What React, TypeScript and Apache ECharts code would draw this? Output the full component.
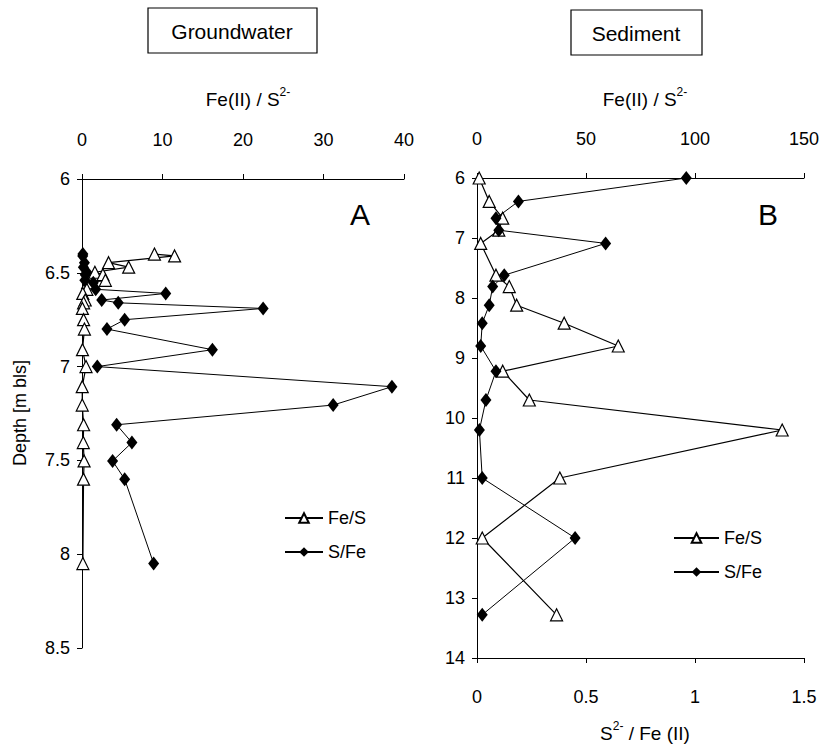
import React, { useEffect, useRef } from "react";
import * as echarts from "echarts";

// Groundwater (panel A)
const gwDepth = [6.40, 6.41, 6.446, 6.47, 6.497, 6.51, 6.54, 6.553, 6.588, 6.61, 6.645, 6.66, 6.69, 6.75, 6.80, 6.91, 7.0, 7.107, 7.205, 7.31, 7.405, 7.503, 7.6, 8.05];
const gwFeS = [9.0, 11.5, 3.3, 5.8, 1.6, 2.6, 2.9, 0.7, 0.6, 0.1, 0.4, 0.2, 0.05, 0.2, 0.3, 0.06, 0.5, 0.03, 0.03, 0.2, 0.16, 0.26, 0.19, 0.11];
const gwSFe = [0.11, 0.09, 0.3, 0.17, 0.6, 0.4, 0.35, 1.4, 1.7, 10.4, 2.45, 4.5, 22.5, 5.3, 3.1, 16.2, 1.9, 38.5, 31.2, 4.3, 6.2, 3.8, 5.3, 8.9];

// Sediment (panel B)
const sedDepth = [6.0, 6.39, 6.67, 6.87, 7.09, 7.62, 7.81, 8.12, 8.42, 8.8, 9.22, 9.7, 10.2, 11.0, 12.0, 13.28];
const sedFeS = [1, 5.6, 11.8, 10, 1.7, 8.7, 14.8, 18.2, 40, 64.8, 11.8, 24, 140, 38, 2.4, 36.5];
const sedSFe = [0.96, 0.19, 0.087, 0.1, 0.59, 0.125, 0.072, 0.056, 0.024, 0.017, 0.087, 0.041, 0.011, 0.024, 0.45, 0.024];

const seriesNames = ["Fe/S", "S/Fe"];
const panelTitles = ["Groundwater", "Sediment"];
const panelLetters = ["A", "B"];

const FONT = "'Liberation Sans', Arial, sans-serif";

export default function App() {
  const ref = useRef<HTMLDivElement>(null);
  useEffect(() => {
    if (!ref.current) return;
    const chart = echarts.init(ref.current, undefined, { renderer: "svg" });
    const axisLine = { show: true, lineStyle: { color: "#000", width: 1 } };
    const axisTick = { show: true, inside: false, length: 5, lineStyle: { color: "#000" } };
    const lbl = (margin: number) => ({ color: "#000", fontSize: 18, fontFamily: FONT, margin });
    const tri = {
      symbol: "triangle",
      symbolSize: 12,
      itemStyle: { color: "#fff", borderColor: "#000", borderWidth: 1.2 },
      lineStyle: { color: "#000", width: 1.2 },
    };
    const dia = {
      symbol: "diamond",
      symbolSize: [11, 14],
      itemStyle: { color: "#000", borderColor: "#000", borderWidth: 0 },
      lineStyle: { color: "#000", width: 1 },
    };
    const titleRich = {
      b: { fontSize: 19, lineHeight: 26, fontFamily: FONT, color: "#000" },
      s: { fontSize: 12, lineHeight: 14, fontFamily: FONT, color: "#000", verticalAlign: "top" },
    };
    const option: any = {
      animation: false,
      backgroundColor: "#fff",
      grid: [
        { left: 82, top: 179, width: 322, height: 469, containLabel: false },
        { left: 477, top: 178, width: 327, height: 480, containLabel: false },
      ],
      xAxis: [
        { type: "value", gridIndex: 0, position: "top", min: 0, max: 40, interval: 10, axisLine, axisTick, axisLabel: lbl(30), splitLine: { show: false } },
        { type: "value", gridIndex: 1, position: "top", min: 0, max: 150, interval: 50, axisLine, axisTick, axisLabel: lbl(30), splitLine: { show: false } },
        { type: "value", gridIndex: 1, position: "bottom", min: 0, max: 1.5, interval: 0.5, axisLine, axisTick, axisLabel: lbl(30), splitLine: { show: false } },
      ],
      yAxis: [
        { type: "value", gridIndex: 0, inverse: true, min: 6, max: 8.5, interval: 0.5, axisLine, axisTick, axisLabel: lbl(12), splitLine: { show: false } },
        { type: "value", gridIndex: 1, inverse: true, min: 6, max: 14, interval: 1, axisLine, axisTick, axisLabel: lbl(12), splitLine: { show: false } },
      ],
      legend: [
        {
          data: seriesNames, orient: "vertical", left: 284, top: 508, padding: 0, itemWidth: 38, itemHeight: 12, itemGap: 14,
          textStyle: { fontSize: 18, fontFamily: FONT, color: "#000", lineHeight: 20 }, selectedMode: false,
        },
        {
          data: seriesNames, orient: "vertical", left: 673, top: 528, padding: 0, itemWidth: 45, itemHeight: 12, itemGap: 14,
          textStyle: { fontSize: 18, fontFamily: FONT, color: "#000", lineHeight: 20 }, selectedMode: false,
        },
      ],
      series: [
        { name: seriesNames[0], type: "line", xAxisIndex: 0, yAxisIndex: 0, data: gwDepth.map((d, i) => [gwFeS[i], d]), ...tri },
        { name: seriesNames[1], type: "line", xAxisIndex: 0, yAxisIndex: 0, data: gwDepth.map((d, i) => [gwSFe[i], d]), ...dia },
        { name: seriesNames[0], type: "line", xAxisIndex: 1, yAxisIndex: 1, data: sedDepth.map((d, i) => [sedFeS[i], d]), ...tri },
        { name: seriesNames[1], type: "line", xAxisIndex: 2, yAxisIndex: 1, data: sedDepth.map((d, i) => [sedSFe[i], d]), ...dia },
      ],
      graphic: [
        { type: "rect", shape: { x: 148, y: 8, width: 169, height: 45 }, style: { fill: "#fff", stroke: "#000", lineWidth: 1.2 } },
        { type: "text", x: 232, y: 31, style: { text: panelTitles[0], align: "center", verticalAlign: "middle", fontSize: 21, fontFamily: FONT, fill: "#000" } },
        { type: "rect", shape: { x: 571, y: 10, width: 131, height: 45 }, style: { fill: "#fff", stroke: "#000", lineWidth: 1.2 } },
        { type: "text", x: 636, y: 33, style: { text: panelTitles[1], align: "center", verticalAlign: "middle", fontSize: 21, fontFamily: FONT, fill: "#000" } },
        { type: "text", x: 248, y: 99, style: { text: "{b|Fe(II) / S}{s|2-}", rich: titleRich, align: "center", verticalAlign: "middle" } },
        { type: "text", x: 645, y: 99, style: { text: "{b|Fe(II) / S}{s|2-}", rich: titleRich, align: "center", verticalAlign: "middle" } },
        { type: "text", x: 645, y: 733, style: { text: "{b|S}{s|2-}{b| / Fe (II)}", rich: titleRich, align: "center", verticalAlign: "middle" } },
        { type: "text", x: 20, y: 413, rotation: Math.PI / 2, style: { text: "Depth [m bls]", align: "center", verticalAlign: "middle", fontSize: 18, fontFamily: FONT, fill: "#000" } },
        { type: "text", x: 360, y: 214, style: { text: panelLetters[0], align: "center", verticalAlign: "middle", fontSize: 30, fontFamily: FONT, fill: "#000" } },
        { type: "text", x: 768, y: 214, style: { text: panelLetters[1], align: "center", verticalAlign: "middle", fontSize: 30, fontFamily: FONT, fill: "#000" } },
      ],
    };
    chart.setOption(option);
    return () => chart.dispose();
  }, []);
  return <div ref={ref} style={{ position: "fixed", left: 0, top: 0, width: 822, height: 747 }} />;
}
